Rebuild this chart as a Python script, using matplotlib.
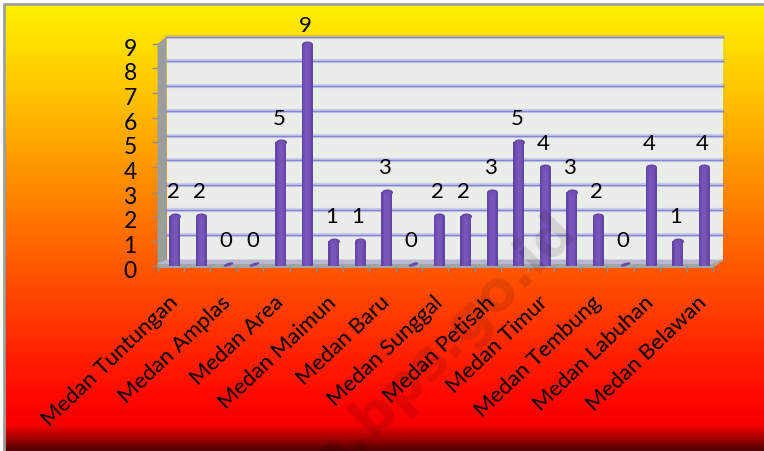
import numpy as np
import matplotlib
matplotlib.use("Agg")
import matplotlib.pyplot as plt
from matplotlib.colors import LinearSegmentedColormap
from matplotlib.path import Path
from matplotlib.patches import Polygon
from matplotlib.transforms import Affine2D, ScaledTranslation

values = [2, 2, 0, 0, 5, 9, 1, 1, 3, 0, 2, 2, 3, 5, 4, 3, 2, 0, 4, 1, 4]
tick_labels = ["Medan Tuntungan", "Medan Amplas", "Medan Area", "Medan Maimun",
               "Medan Baru", "Medan Sunggal", "Medan Petisah", "Medan Timur",
               "Medan Tembung", "Medan Labuhan", "Medan Belawan"]
y_ticks = list(range(10))
watermark = "ta.bps.go.id"

plt.rcParams['font.family'] = ['Lato', 'DejaVu Sans']
W, H = 764, 451
fig = plt.figure(figsize=(W / 100, H / 100), dpi=100, facecolor='white')

def rect(x0, ytop, x1, ybot):
    return [x0 / W, 1 - ybot / H, (x1 - x0) / W, (ybot - ytop) / H]

# background, pixel coordinates
bg = fig.add_axes([0, 0, 1, 1], zorder=0)
bg.set_xlim(0, W); bg.set_ylim(H, 0); bg.axis('off')
stops = [(0.0, '#fff200'), (0.2, '#ffc400'), (0.6, '#ff5500'), (0.88, '#ff0800'),
         (0.945, '#f40000'), (0.975, '#a00000'), (1.0, '#500000')]
cmap = LinearSegmentedColormap.from_list('g', stops)
bg.imshow(np.linspace(0, 1, 447)[:, None], cmap=cmap, aspect='auto',
          extent=(4, W, H, 4), zorder=0)
bg.plot([3.5, 3.5, W], [H, 3.5, 3.5], color='#a0a098', lw=2, zorder=1)
bg.set_xlim(0, W); bg.set_ylim(H, 0)

# 3D box
X0, X1, DX = 157.5, 713, 9
YT, YB, DY = 44, 267, 7.5
bg.add_patch(Polygon([(X0 + DX, YT - DY), (X1 + DX + 1, YT - DY), (X1 + DX + 1, YB - DY), (X0 + DX, YB - DY)],
                     fc='#eaeee8', ec='none', zorder=2))
bg.add_patch(Polygon([(X0, YT), (X0 + DX, YT - DY), (X0 + DX, YB - DY), (X0, YB)],
                     fc='#9b9f9b', ec='none', zorder=3))
bg.add_patch(Polygon([(X0, YB - 3), (X0 + DX, YB - DY), (X1 + DX + 1, YB - DY), (X1, YB - 3)],
                     fc='#b8b8d0', ec='none', zorder=3))
bg.add_patch(Polygon([(X0, YB - 3), (X1, YB - 3), (X1 + DX + 1, YB - DY), (X1 + DX + 1, YB - DY + 1), (X1, YB + 1), (X0, YB + 1)],
                     fc='#a3a5a0', ec='none', zorder=3))

# back wall gridlines
wall = fig.add_axes(rect(X0 + DX, YT - DY, X1 + DX + 1, YB - DY), zorder=1)
wall.patch.set_alpha(0)
wall.set_ylim(0, 9); wall.set_xlim(0, 1)
wall.set_xticks([]); wall.set_yticks([])
for s in wall.spines.values():
    s.set_visible(False)
for v in y_ticks[1:]:
    wall.axhline(v, color='#8e8ee0', lw=3, alpha=0.35, clip_on=False)
    wall.axhline(v, color='#8484dc', lw=1, clip_on=False)

# front axes: bars and axes
n = len(values)
ax = fig.add_axes(rect(X0, YT - 0.5, X1, YB - 1.5), zorder=2)
ax.patch.set_alpha(0)
ax.set_xlim(-0.66, n - 0.66)
ax.set_ylim(0, 9)
x = np.arange(n)
px = (X1 - X0) / n

def pts(p):
    return p * 72 / 100

ell = Path.unit_circle().transformed(Affine2D().scale(1, 0.55))
sliver = Path.unit_circle().transformed(Affine2D().scale(1, 0.3).rotate_deg(18))
ax.bar(x, values, width=11 / px, color='#6344a4', zorder=3)
ax.bar(x, values, width=8 / px, color='#6e4daf', zorder=3.1)
ax.bar(x, values, width=4.5 / px, color='#7855bb', zorder=3.2)
vals = np.array(values)
ax.scatter(x[vals > 0], vals[vals > 0], s=pts(11) ** 2, marker=ell, color='#6344a4', lw=0, zorder=3, clip_on=False)
ax.scatter(x[vals > 0], vals[vals > 0], s=pts(7) ** 2, marker=ell, color='#7250b4', lw=0, zorder=3.3, clip_on=False)
ax.scatter(x[vals == 0], vals[vals == 0] + 0.08, s=pts(10) ** 2, marker=sliver, color='#6a4aa8', lw=0, zorder=3, clip_on=False)

for xi, v in zip(x, values):
    rise = 24.5 - 0.3 * v - (4 if v == max(values) else 0)
    ax.annotate(str(v), (xi, v), xytext=(-2 * 0.72, rise * 0.72), textcoords='offset points',
                ha='center', va='center', fontsize=16, color='black', zorder=6, annotation_clip=False)

ax.set_yticks(y_ticks)
ax.set_yticklabels([str(v) for v in y_ticks], fontsize=16.5, color='black')
ax.tick_params(axis='y', length=4, width=1, color='#909090', pad=11)
off = ScaledTranslation(0, -3.5 / 100, fig.dpi_scale_trans)
for t in ax.get_yticklabels():
    t.set_transform(t.get_transform() + off)
ax.set_xticks(np.arange(n + 1) - 0.66)
ax.set_xticklabels([])
ax.tick_params(axis='x', length=4.5, width=1, color='#909090', pad=0)
for s in ax.spines.values():
    s.set_visible(False)

for i, lab in enumerate(tick_labels):
    ax.annotate(lab, (2 * i, 0), xytext=(-7 * 0.72, -27 * 0.72), textcoords='offset points',
                rotation=43.5, rotation_mode='anchor', ha='right', va='top',
                fontsize=15.9, color='black', zorder=6, annotation_clip=False)

# watermark
bg2 = fig.add_axes([0, 0, 1, 1], zorder=3)
bg2.patch.set_alpha(0); bg2.axis('off')
bg2.set_xlim(0, W); bg2.set_ylim(H, 0)
bg2.text(579, 235, watermark, rotation=45, rotation_mode='anchor', ha='right', va='baseline',
         fontsize=40, fontweight='bold', family='DejaVu Sans', color='black', alpha=0.11, clip_on=True)

fig.savefig('out.png', dpi=100)
